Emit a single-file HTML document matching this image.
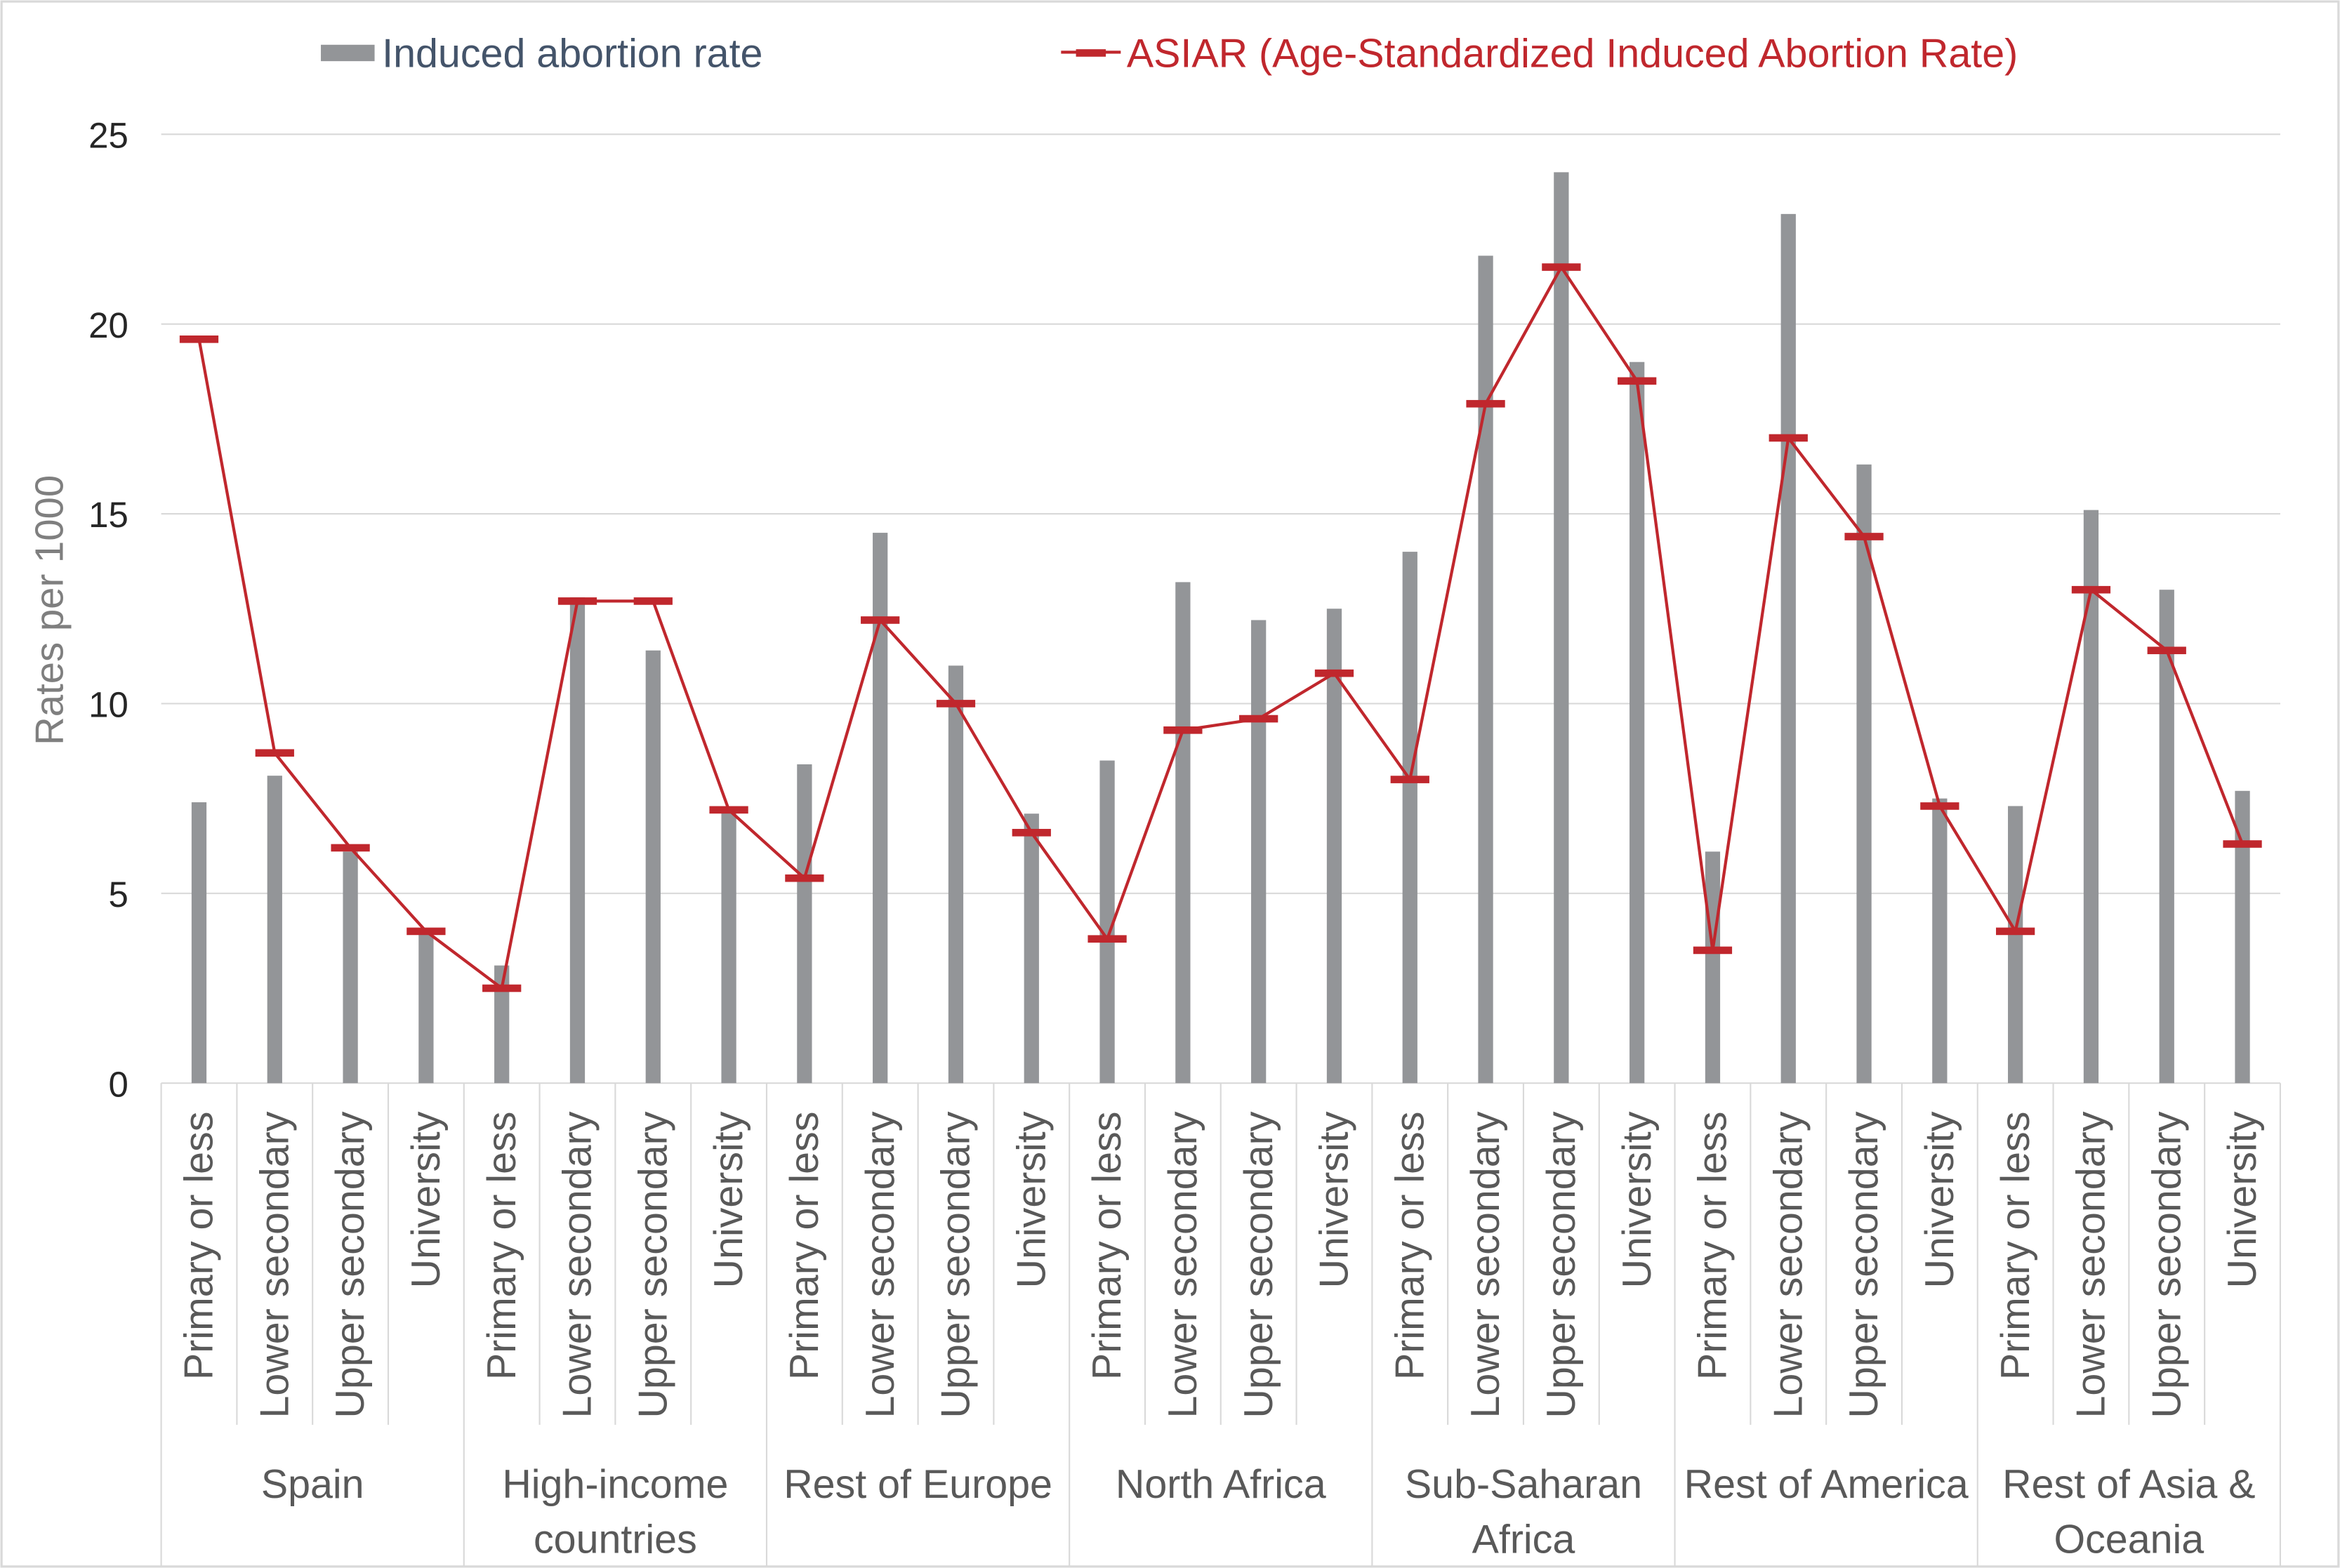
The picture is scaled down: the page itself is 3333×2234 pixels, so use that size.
<!DOCTYPE html>
<html><head><meta charset="utf-8"><style>
html,body{margin:0;padding:0;background:#fff;}
svg{display:block;font-family:"Liberation Sans",sans-serif;}
</style></head><body>
<svg id="chart" width="3333" height="2234" viewBox="0 0 1568 1051" xmlns="http://www.w3.org/2000/svg">
<rect x="1" y="1" width="1566" height="1049" fill="#fff" stroke="#d9d9d9" stroke-width="1.5"/>
<g id="grid"></g>
<g id="bars"></g>
<g id="line"></g>
<g id="axes"></g>
<g>
<rect x="215" y="30" width="36" height="11" fill="#939598"/>
<text x="256" y="45" font-size="27" fill="#44546a">Induced abortion rate</text>
<line x1="711" y1="35" x2="751" y2="35" stroke="#c0272d" stroke-width="2"/>
<rect x="721" y="33" width="20" height="5" fill="#c0272d"/>
<text x="755" y="45" font-size="27" fill="#c0272d">ASIAR (Age-Standardized Induced Abortion Rate)</text>
</g>
<text transform="translate(42,409) rotate(-90)" text-anchor="middle" font-size="26.5" fill="#7f7f7f">Rates per 1000</text>
</svg>
<script>
const groups = ["Spain","High-income|countries","Rest of Europe","North Africa","Sub-Saharan|Africa","Rest of America","Rest of Asia &|Oceania"];
const levels = ["Primary or less","Lower secondary","Upper secondary","University"];
const barValues = [7.4,8.1,6.1,4.0, 3.1,12.8,11.4,7.2, 8.4,14.5,11.0,7.1, 8.5,13.2,12.2,12.5, 14.0,21.8,24.0,19.0, 6.1,22.9,16.3,7.5, 7.3,15.1,13.0,7.7];
const asiarValues = [19.6,8.7,6.2,4.0, 2.5,12.7,12.7,7.2, 5.4,12.2,10.0,6.6, 3.8,9.3,9.6,10.8, 8.0,17.9,21.5,18.5, 3.5,17.0,14.4,7.3, 4.0,13.0,11.4,6.3];
const yTicks = [0,5,10,15,20,25];

const NS="http://www.w3.org/2000/svg";
const X0=108,X1=1528,Y0=726,Y1=90,YMAX=25;
const n=barValues.length, cw=(X1-X0)/n;
const xs=i=>X0+cw*(i+0.5);
const ys=v=>Y0-(v/YMAX)*(Y0-Y1);
function mk(tag,attrs,parent,txt){const e=document.createElementNS(NS,tag);for(const k in attrs)e.setAttribute(k,attrs[k]);if(txt!==undefined)e.textContent=txt;parent.appendChild(e);return e;}
const grid=document.getElementById('grid'),bars=document.getElementById('bars'),line=document.getElementById('line'),axes=document.getElementById('axes');

yTicks.forEach(t=>{
  const g=mk('line',{x1:X0,x2:X1,y1:ys(t),y2:ys(t),stroke:'#d9d9d9','stroke-width':1},grid);
  
  
  const l=mk('text',{x:86,y:ys(t)+9,'text-anchor':'end','font-size':24,fill:'#262626'},axes,String(t));
  
  
});

barValues.forEach((v,i)=>{
  const r=mk('rect',{x:xs(i)-5,y:ys(v),width:10,height:Y0-ys(v),fill:'#939598'},bars);
  
  
});

const pts=asiarValues.map((v,i)=>xs(i)+','+ys(v)).join(' ');
const pl=mk('polyline',{points:pts,fill:'none',stroke:'#c0272d','stroke-width':2},line);


asiarValues.forEach((v,i)=>{
  const m=mk('rect',{x:xs(i)-13,y:ys(v)-2.5,width:26,height:5,fill:'#c0272d'},line);
  
  
});

for(let i=0;i<=n;i++){
  const x=X0+cw*i, major=(i%4===0);
  const t=mk('line',{x1:x,x2:x,y1:Y0,y2:major?1050:955,stroke:'#d9d9d9','stroke-width':1},axes);
  
  
}
barValues.forEach((v,i)=>{
  const t=mk('text',{transform:'translate('+(xs(i)+9)+',745) rotate(-90)','text-anchor':'end','font-size':27,fill:'#595959'},axes,levels[i%4]);
  
  
});
groups.forEach((g,j)=>{
  const cx=X0+cw*(j*4+2);
  const parts=g.split('|');
  parts.forEach((p,k)=>{
    const t=mk('text',{x:cx,y:1004+k*37,'text-anchor':'middle','font-size':27,fill:'#595959'},axes,p);
    
    
  });
});
</script>
</body></html>
